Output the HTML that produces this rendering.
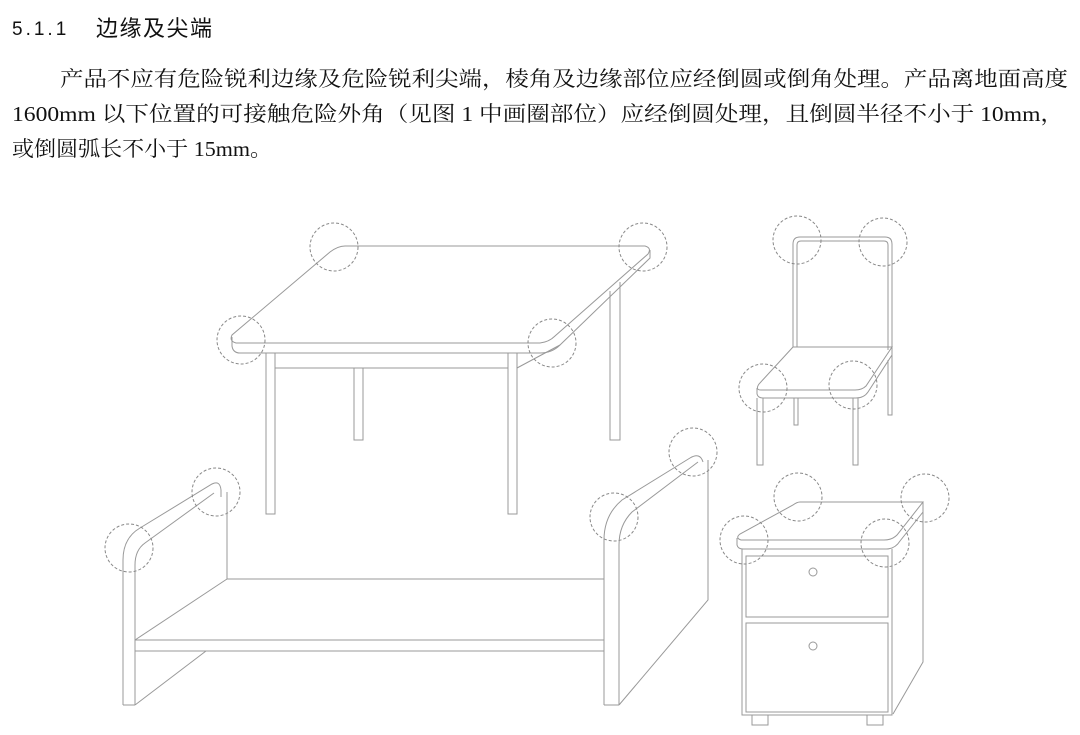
<!DOCTYPE html>
<html><head><meta charset="utf-8"><style>
html,body{margin:0;padding:0;background:#fff;}
svg{display:block;}
</style></head><body>
<svg width="1080" height="735" viewBox="0 0 1080 735" xmlns="http://www.w3.org/2000/svg">
<text x="12" y="35" font-family="'Liberation Sans',sans-serif" font-size="19" fill="#111" letter-spacing="3">5.1.1</text>
<text x="96" y="36" font-family="'Liberation Sans','Noto Sans CJK SC',sans-serif" font-size="22" fill="#111" textLength="116">边缘及尖端</text>
<g font-family="'Liberation Serif','Noto Serif CJK SC',serif" font-size="21" fill="#111">
<text x="60" y="86" textLength="1008" lengthAdjust="spacingAndGlyphs">产品不应有危险锐利边缘及危险锐利尖端，棱角及边缘部位应经倒圆或倒角处理。产品离地面高度</text>
<text x="12" y="121" textLength="1052" lengthAdjust="spacingAndGlyphs">1600mm 以下位置的可接触危险外角（见图 1 中画圈部位）应经倒圆处理，且倒圆半径不小于 10mm，</text>
<text x="12" y="156" textLength="260" lengthAdjust="spacingAndGlyphs">或倒圆弧长不小于 15mm。</text>
</g>
<g fill="none" stroke="#999" stroke-width="1">
<path d="M345,246 H645 Q652,248 648,254 L555,336 Q549,342 540,343 H236 Q229,341 232,335 L330,252 Q338,246 345,246 Z"/>
<path d="M232,337 V346 Q233,353 240,353 H540 Q552,353 560,345 L650,258 V250"/>
<path d="M266,353 V514 H275 V353"/><path d="M508,353 V514 H517 V353"/>
<path d="M275,368 H508"/><path d="M517,368 L560,345"/>
<path d="M354,368 V440 H363 V368"/>
<path d="M610,291 V440 H620 V282"/>
<path d="M123,705 V560 Q123,538 140,528 L212,484 Q220,480 221,490 V497"/>
<path d="M135,705 V565 Q135,550 145,543 L214,493"/>
<path d="M123,705 H135"/>
<path d="M227,492 V579"/>
<path d="M227,579 H604"/>
<path d="M135,640 L227,579"/>
<path d="M135,640 H604"/><path d="M135,651 H604"/>
<path d="M135,705 L206,651"/>
<path d="M604,705 V540 Q604,515 622,500 L690,458 Q700,452 703,462"/>
<path d="M619,705 V545 Q619,525 632,512 L698,462"/>
<path d="M604,705 H619"/>
<path d="M708,460 V600 L619,705"/>
<path d="M793,347 V244 Q793,237 800,237 H885 Q892,237 892,244 V347"/>
<path d="M797,347 V245 Q797,241 801,241 H884 Q888,241 888,245 V350"/>
<path d="M793,347 H892 L866,386 Q862,390 855,390 H761 Q755,390 759,384 L793,347"/>
<path d="M757,388 V394 Q758,398 763,398 H856 Q864,398 868,392 L892,355 V347"/>
<path d="M757,398 V465 H763 V398"/><path d="M853,398 V465 H858 V398"/>
<path d="M794,398 V425 H798 V398"/>
<path d="M888,360 V415 H892 V352"/>
<path d="M800,502 H923 L897,535 Q892,540 884,540 H741 Q735,538 740,534 L793,505 Q797,502 800,502 Z"/>
<path d="M737,538 V545 Q738,549 743,549 H886 Q895,549 900,541 L923,512 V502"/>
<path d="M742,549 V715 H892 V549"/>
<path d="M923,512 V662 L893,714"/>
<rect x="746" y="556" width="142" height="61"/>
<rect x="746" y="623" width="142" height="89"/>
<circle cx="813" cy="572" r="4"/><circle cx="813" cy="646" r="4"/>
<path d="M752,715 V725 H768 V715"/><path d="M867,715 V725 H883 V715"/>
</g>
<g fill="none" stroke="#888" stroke-width="1" stroke-dasharray="3,2">
<circle cx="334" cy="247" r="24"/><circle cx="643" cy="247" r="24"/>
<circle cx="241" cy="340" r="24"/><circle cx="552" cy="343" r="24"/>
<circle cx="129" cy="548" r="24"/><circle cx="216" cy="492" r="24"/>
<circle cx="614" cy="517" r="24"/><circle cx="693" cy="452" r="24"/>
<circle cx="797" cy="240" r="24"/><circle cx="883" cy="242" r="24"/>
<circle cx="763" cy="388" r="24"/><circle cx="853" cy="385" r="24"/>
<circle cx="798" cy="497" r="24"/><circle cx="925" cy="498" r="24"/>
<circle cx="744" cy="540" r="24"/><circle cx="885" cy="543" r="24"/>
</g>
</svg>
</body></html>
